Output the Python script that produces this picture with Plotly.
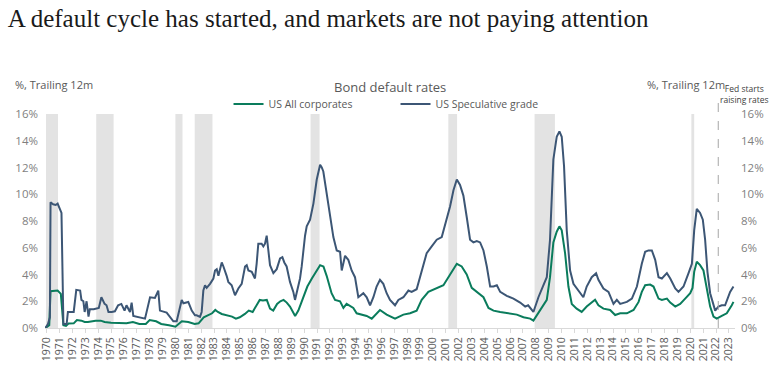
import plotly.graph_objects as go

# ---------------- data (decimal years, % trailing 12m) ----------------
spec_t = [1969.9, 1970.1, 1970.25, 1970.3, 1970.5, 1970.7, 1970.85, 1971.0, 1971.15, 1971.3,
          1971.55, 1971.65, 1972.1, 1972.3, 1972.6, 1972.7, 1972.85, 1972.95, 1973.1, 1973.25,
          1973.35, 1973.65, 1973.9, 1974.05, 1974.25, 1974.4, 1974.5, 1974.65, 1974.8, 1975.05,
          1975.3, 1975.55, 1975.8, 1976.05, 1976.2, 1976.47, 1976.6, 1976.73, 1977.5, 1977.64,
          1978.03, 1978.41, 1978.67, 1978.8, 1979.32, 1979.84, 1980.1, 1980.23, 1980.49, 1980.62,
          1981.0, 1981.27, 1981.52, 1981.65, 1981.91, 1982.04, 1982.17, 1982.3, 1982.43, 1982.69,
          1982.95, 1983.08, 1983.21, 1983.34, 1983.47, 1983.6, 1983.73, 1983.86, 1983.98, 1984.11,
          1984.37, 1984.63, 1984.89, 1985.15, 1985.41, 1985.54, 1985.67, 1985.93, 1986.18, 1986.31,
          1986.44, 1986.7, 1986.83, 1986.96, 1987.09, 1987.22, 1987.35, 1987.61, 1987.87, 1988.13,
          1988.31, 1988.46, 1988.64, 1988.9, 1989.16, 1989.29, 1989.42, 1989.68, 1989.81, 1989.94,
          1990.07, 1990.2, 1990.46, 1990.72, 1990.98, 1991.24, 1991.37, 1991.49, 1991.75, 1992.01,
          1992.27, 1992.53, 1992.79, 1992.92, 1993.18, 1993.43, 1993.69, 1993.95, 1994.21, 1994.6,
          1994.86, 1995.12, 1995.38, 1995.63, 1995.89, 1996.15, 1996.41, 1996.67, 1997.06, 1997.32,
          1997.71, 1998.1, 1998.35, 1998.74, 1999.13, 1999.52, 1999.91, 2000.3, 2000.69, 2001.08,
          2001.34, 2001.6, 2001.86, 2002.11, 2002.37, 2002.63, 2002.89, 2003.15, 2003.41, 2003.67,
          2003.93, 2004.19, 2004.45, 2004.71, 2004.97, 2005.23, 2005.74, 2006.26, 2006.78, 2007.17,
          2007.4, 2007.81, 2008.2, 2008.59, 2008.85, 2009.1, 2009.36, 2009.62, 2009.83, 2010.01,
          2010.19, 2010.4, 2010.66, 2010.92, 2011.3, 2011.69, 2011.95, 2012.34, 2012.68, 2012.86,
          2013.25, 2013.64, 2014.03, 2014.29, 2014.55, 2015.07, 2015.46, 2015.85, 2016.23, 2016.49,
          2016.75, 2017.01, 2017.27, 2017.53, 2017.79, 2018.18, 2018.44, 2018.83, 2019.08, 2019.47,
          2019.86, 2020.12, 2020.3, 2020.5, 2020.76, 2020.97, 2021.15, 2021.33, 2021.54, 2021.8,
          2021.93, 2022.18, 2022.44, 2022.7, 2022.88, 2023.09, 2023.35]
spec_v = [0.0, 0.3, 0.8, 9.4, 9.25, 9.2, 9.3, 9.0, 8.6, 0.3,
          0.3, 1.2, 1.2, 2.85, 2.8, 2.1, 2.0, 1.2, 2.0, 0.85,
          1.4, 1.4, 1.5, 1.5, 2.3, 2.0, 1.8, 1.7, 1.2, 1.2,
          1.25, 1.7, 1.8, 1.3, 1.7, 1.2, 1.9, 0.9, 0.7, 0.7,
          2.3, 2.25, 2.8, 1.3, 1.15, 0.5, 0.5, 1.1, 2.1, 1.85,
          1.95, 1.3, 0.95, 0.95, 0.83, 1.2, 2.8, 3.2, 3.0, 3.3,
          3.7, 4.3, 4.4, 3.9, 4.4, 4.9, 4.6, 4.3, 3.9, 3.45,
          3.2, 2.45, 2.95, 3.3, 4.6, 4.7, 4.3, 4.2, 3.7, 4.8,
          6.3, 6.3, 6.1, 6.3, 6.9, 5.8, 4.7, 4.1, 4.4, 5.2,
          5.3, 4.9, 4.6, 3.45, 2.7, 2.1, 2.7, 3.7, 4.6, 5.8,
          6.9, 7.6, 8.1, 9.3, 11.1, 12.2, 12.0, 11.7, 10.1, 8.6,
          6.8, 5.8, 5.7, 4.3, 5.4, 5.1, 4.3, 3.8, 2.3, 2.6,
          2.3, 1.7, 2.3, 3.1, 3.6, 3.3, 2.6, 2.1, 1.7, 2.1,
          2.3, 2.8, 2.7, 2.9, 4.3, 5.6, 6.1, 6.6, 6.8, 8.1,
          9.1, 10.3, 11.1, 10.7, 9.9, 8.3, 6.6, 6.4, 6.5, 6.4,
          5.8, 4.6, 3.1, 3.1, 3.2, 2.7, 2.4, 2.2, 1.9, 1.6,
          1.7, 1.2, 2.3, 3.2, 3.8, 6.6, 12.6, 14.3, 14.7, 14.3,
          12.1, 7.3, 4.3, 3.3, 2.8, 2.3, 3.1, 3.8, 4.1, 3.6,
          2.95, 2.7, 1.8, 2.1, 1.8, 1.95, 2.2, 3.1, 4.8, 5.7,
          5.8, 5.8, 5.1, 3.8, 3.7, 4.1, 3.7, 2.95, 2.7, 3.1,
          4.1, 4.8, 7.3, 8.9, 8.6, 8.1, 6.6, 4.2, 2.6, 1.6,
          1.3, 1.6, 1.7, 1.7, 2.1, 2.7, 3.1]

allc_t = [1969.9, 1970.2, 1970.3, 1970.6, 1970.85, 1971.1, 1971.3, 1971.5, 1971.7, 1972.1,
          1972.35, 1972.7, 1972.95, 1973.2, 1973.55, 1973.8, 1974.2, 1974.5, 1975.0, 1975.5,
          1976.2, 1976.7, 1977.2, 1977.7, 1978.0, 1978.5, 1978.9, 1979.5, 1980.0, 1980.5,
          1981.0, 1981.5, 1981.8, 1982.2, 1982.5, 1982.85, 1983.1, 1983.3, 1983.6, 1984.0,
          1984.4, 1984.7, 1985.0, 1985.4, 1985.7, 1986.0, 1986.3, 1986.55, 1986.8, 1987.1,
          1987.35, 1987.6, 1987.9, 1988.15, 1988.4, 1988.65, 1988.9, 1989.15, 1989.3, 1989.55,
          1989.8, 1990.05, 1990.25, 1990.6, 1990.98, 1991.24, 1991.5, 1991.75, 1992.13, 1992.4,
          1992.79, 1993.05, 1993.3, 1993.82, 1994.08, 1994.86, 1995.25, 1995.89, 1996.41, 1997.06,
          1997.71, 1998.23, 1998.74, 1999.13, 1999.65, 2000.3, 2000.82, 2001.34, 2001.86, 2002.24,
          2002.63, 2003.02, 2003.41, 2003.93, 2004.32, 2004.71, 2005.23, 2006.0, 2006.52, 2007.04,
          2007.56, 2007.81, 2008.2, 2008.59, 2008.85, 2009.1, 2009.36, 2009.62, 2009.83, 2010.01,
          2010.27, 2010.53, 2010.79, 2011.17, 2011.56, 2011.95, 2012.34, 2012.6, 2012.86, 2013.25,
          2013.77, 2014.16, 2014.55, 2015.07, 2015.59, 2015.98, 2016.23, 2016.49, 2016.88, 2017.14,
          2017.53, 2017.79, 2018.18, 2018.44, 2018.83, 2019.21, 2019.6, 2019.99, 2020.17, 2020.3,
          2020.5, 2020.76, 2021.02, 2021.28, 2021.54, 2021.8, 2022.05, 2022.44, 2022.83, 2023.22,
          2023.35]
allc_v = [0.0, 0.2, 2.75, 2.8, 2.8, 2.55, 0.2, 0.15, 0.33, 0.35,
          0.6, 0.55, 0.45, 0.45, 0.5, 0.55, 0.55, 0.45, 0.4, 0.4,
          0.35, 0.45, 0.3, 0.3, 0.6, 0.5, 0.3, 0.2, 0.1, 0.5,
          0.45, 0.3, 0.35, 0.8, 0.95, 1.1, 1.35, 1.2, 1.05, 0.95,
          0.85, 0.7, 0.8, 1.05, 1.3, 1.2, 1.7, 2.1, 2.05, 2.1,
          1.45, 1.3, 1.8, 2.0, 2.1, 1.9, 1.6, 1.1, 0.9, 1.3,
          2.0, 2.6, 3.1, 3.7, 4.3, 4.7, 4.6, 3.9, 2.6, 2.1,
          2.0, 1.5, 1.8, 1.5, 1.1, 0.9, 0.7, 1.35, 1.0, 0.7,
          1.0, 1.1, 1.3, 2.1, 2.7, 3.0, 3.2, 4.0, 4.8, 4.6,
          4.0, 3.0, 2.7, 2.3, 1.5, 1.3, 1.2, 1.1, 1.0, 0.8,
          0.7, 0.55, 1.1, 1.7, 2.1, 3.8, 6.4, 7.2, 7.6, 7.3,
          5.6, 3.1, 1.8, 1.45, 1.2, 1.6, 1.95, 2.12, 1.7, 1.45,
          1.35, 0.97, 1.1, 1.1, 1.35, 1.95, 2.7, 3.2, 3.25, 3.1,
          2.2, 2.1, 2.2, 1.9, 1.6, 1.8, 2.2, 2.6, 3.0, 4.2,
          4.95, 4.7, 4.3, 3.0, 1.6, 0.85, 0.7, 0.9, 1.1, 1.7,
          1.95]

# US recessions (shaded)
rec_start = [1969.95, 1973.85, 1980.0, 1981.5, 1990.5, 2001.2, 2007.9, 2020.08]
rec_end = [1970.88, 1975.2, 1980.55, 1982.88, 1991.2, 2001.88, 2009.48, 2020.3]

fed_hike = 2022.17
years = list(range(1970, 2024))
y_ticks = [0, 2, 4, 6, 8, 10, 12, 14, 16]

GREEN = "#0a7c5c"
BLUE = "#3c5675"
GRAY_TXT = "#7f7f7f"
FONT = "Open Sans"

fig = go.Figure()
fig.add_trace(go.Scatter(x=allc_t, y=allc_v, mode="lines", name="US All corporates",
                         line=dict(color=GREEN, width=2)))
fig.add_trace(go.Scatter(x=spec_t, y=spec_v, mode="lines", name="US Speculative grade",
                         line=dict(color=BLUE, width=2)))
fig.add_trace(go.Scatter(x=[None], y=[None], yaxis="y2", showlegend=False, hoverinfo="skip"))

shapes = []
for s, e in zip(rec_start, rec_end):
    shapes.append(dict(type="rect", xref="x", yref="y", x0=s, x1=e, y0=0, y1=16,
                       fillcolor="#e3e3e3", line=dict(width=0), layer="below"))
shapes.append(dict(type="line", xref="x", yref="paper", x0=fed_hike, x1=fed_hike, y0=0, y1=1.06,
                   line=dict(color="#a6a6a6", width=1, dash="dash")))

annotations = [
    dict(text="Bond default rates", xref="paper", yref="paper", x=0.5, y=1.127,
         xanchor="center", yanchor="middle", showarrow=False,
         font=dict(family=FONT, size=13, color="#595959")),
    dict(text="%, Trailing 12m", xref="paper", yref="paper", x=-0.046, y=1.14,
         xanchor="left", yanchor="middle", showarrow=False,
         font=dict(family=FONT, size=11, color="#595959")),
    dict(text="%, Trailing 12m", xref="paper", yref="paper", x=0.869, y=1.14,
         xanchor="left", yanchor="middle", showarrow=False,
         font=dict(family=FONT, size=11, color="#595959")),
    dict(text="Fed starts<br>raising rates", xref="paper", yref="paper", x=1.014, y=1.093,
         xanchor="center", yanchor="middle", showarrow=False, align="center",
         font=dict(family=FONT, size=8.5, color="#404040")),
]

axis_common = dict(range=[0, 16], tickvals=y_ticks, ticktext=[f"{v}%" for v in y_ticks],
                   showgrid=False, zeroline=False, showline=False,
                   tickfont=dict(family=FONT, size=11.5, color=GRAY_TXT), fixedrange=True)

fig.update_layout(
    width=777, height=390,
    margin=dict(l=45, r=42, t=114, b=62),
    paper_bgcolor="white", plot_bgcolor="white",
    title=dict(text="A default cycle has started, and markets are not paying attention",
               xref="container", x=0.01, xanchor="left", y=0.953, yanchor="middle",
               font=dict(family="Liberation Serif", size=25, color="#1a1a1a")),
    xaxis=dict(range=[1969.87, 2023.47], tickmode="array", tickvals=years,
               ticktext=[str(y) for y in years], tickangle=-90,
               ticks="outside", ticklen=4, tickcolor="#d9d9d9",
               showline=True, linecolor="#d9d9d9", linewidth=1,
               showgrid=False, zeroline=False,
               tickfont=dict(family=FONT, size=10.5, color="#595959")),
    yaxis=dict(**axis_common, side="left", ticklabelstandoff=6),
    yaxis2=dict(**axis_common, side="right", overlaying="y", ticklabelstandoff=5),
    legend=dict(orientation="h", x=0.508, xanchor="center", y=1.047, yanchor="middle",
                font=dict(family=FONT, size=10.5, color="#595959"),
                bgcolor="rgba(0,0,0,0)", itemwidth=30, entrywidth=122, entrywidthmode="pixels"),
    shapes=shapes,
    annotations=annotations,
    showlegend=True,
)

fig.write_html("out.html")
